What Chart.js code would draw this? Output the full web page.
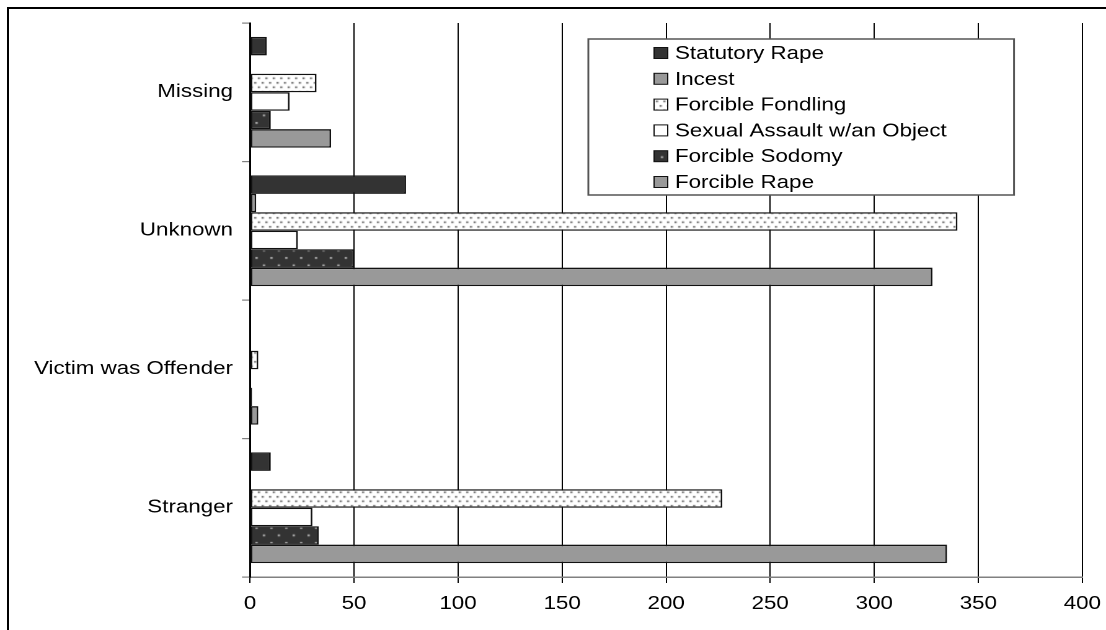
<!DOCTYPE html>
<html>
<head>
<meta charset="utf-8">
<script src="https://cdn.jsdelivr.net/npm/chart.js@4.4.1/dist/chart.umd.min.js"></script>
<style>
  html, body { margin: 0; padding: 0; background: #fff; overflow: hidden; }
  #wrap { position: relative; width: 1106px; height: 630px; overflow: hidden; }
  #frame { position: absolute; left: 7px; top: 7px; width: 1200px; height: 700px;
           border-top: 2px solid #000; border-left: 2px solid #000; }
  #c { position: absolute; left: 0; top: 0; }
</style>
</head>
<body>
<div id="wrap">
  <canvas id="c" width="892" height="630" style="width:1106px;height:630px"></canvas>
  <div id="frame"></div>
</div>
<script>
// data
const categories = ["Missing", "Unknown", "Victim was Offender", "Stranger"];
const seriesNames = ["Statutory Rape", "Incest", "Forcible Fondling",
                     "Sexual Assault w/an Object", "Forcible Sodomy", "Forcible Rape"];
const statutoryRape = [8, 75, 0, 10];
const incest = [0, 3, 0, 0];
const forcibleFondling = [32, 340, 4, 227];
const sexualAssaultObject = [19, 23, 0, 30];
const forcibleSodomy = [10, 50, 1, 33];
const forcibleRape = [39, 328, 4, 335];
const xMin = 0, xMax = 400, xStep = 50;

const FONT = '"Liberation Sans", Arial, sans-serif';

// ---------- fill patterns ----------
function makePattern(w, h, bg, dot, dots, size){
  const c = document.createElement("canvas");
  c.width = w; c.height = h;
  const g = c.getContext("2d");
  g.fillStyle = bg; g.fillRect(0, 0, w, h);
  g.fillStyle = dot;
  dots.forEach(([x, y]) => g.fillRect(x, y, size, size));
  return document.createElement("canvas").getContext("2d").createPattern(c, "repeat");
}
const fondlingFill = makePattern(6, 9, "#ffffff", "#555555", [[1, 1], [4, 5.5]], 1.6);
const sodomyFill = makePattern(12, 15, "#333333", "#bbbbbb", [[2, 2], [8, 9.5]], 1.8);

const fills = ["#333333", "#999999", fondlingFill, "#ffffff", sodomyFill, "#999999"];
const values = [statutoryRape, incest, forcibleFondling, sexualAssaultObject, forcibleSodomy, forcibleRape];

const datasets = seriesNames.map((name, i) => ({
  label: name,
  data: values[i],
  backgroundColor: fills[i],
  borderColor: "#111",
  borderWidth: 1.4,
  borderSkipped: false,
  categoryPercentage: 0.8,
  barPercentage: 1.0
}));

// legend box drawn inside the plot, like the original
const boxLegend = {
  id: "boxLegend",
  afterDraw(chart){
    const ctx = chart.ctx;
    const bx = 474.5, by = 39, bw = 343.3, bh = 156;
    ctx.save();
    ctx.fillStyle = "#fff";
    ctx.fillRect(bx, by, bw, bh);
    ctx.strokeStyle = "#555";
    ctx.lineWidth = 1.5;
    ctx.strokeRect(bx, by, bw, bh);
    ctx.font = "18px " + FONT;
    ctx.textBaseline = "middle";
    chart.data.datasets.forEach((ds, i) => {
      const y = 53 + i * 25.8;
      const sx = 527.5, sy = y - 5.5;
      ctx.save();
      ctx.translate(sx - 2.5, sy - 4);
      ctx.fillStyle = ds.backgroundColor;
      ctx.fillRect(2.5, 4, 11, 11);
      ctx.restore();
      ctx.strokeStyle = "#111";
      ctx.lineWidth = 1;
      ctx.strokeRect(sx, sy, 11, 11);
      ctx.fillStyle = "#000";
      ctx.fillText(ds.label, 544.4, y + 1);
    });
    ctx.restore();
  }
};

new Chart(document.getElementById("c"), {
  type: "bar",
  data: { labels: categories, datasets },
  plugins: [boxLegend],
  options: {
    indexAxis: "y",
    responsive: false,
    animation: false,
    devicePixelRatio: 2,
    layout: { padding: { top: 23, right: 19.1, bottom: 0, left: 0 } },
    plugins: { legend: { display: false }, tooltip: { enabled: false } },
    scales: {
      x: {
        min: xMin, max: xMax,
        ticks: { stepSize: xStep, color: "#000", padding: 10, font: { family: FONT, size: 18 } },
        grid: { color: "#000", lineWidth: 1, tickLength: 6, tickColor: "#000" },
        border: { color: "#808080", width: 1.5 },
        afterFit(scale){ scale.height = 53; scale.paddingLeft = 0; scale.paddingRight = 0; }
      },
      y: {
        ticks: { color: "#000", padding: 7.3, font: { family: FONT, size: 18 } },
        grid: { offset: true, drawOnChartArea: false, tickLength: 6.45, color: "#808080", lineWidth: 1.2 },
        border: { color: "#000", width: 1.5 },
        afterFit(scale){ scale.width = 201.6; }
      }
    }
  }
});
</script>
</body>
</html>
